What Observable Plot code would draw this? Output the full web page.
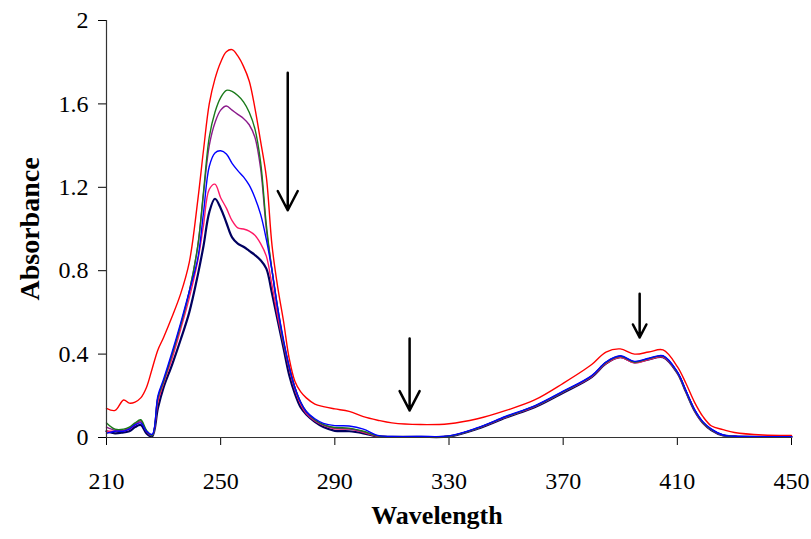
<!DOCTYPE html>
<html>
<head>
<meta charset="utf-8">
<script src="https://cdn.jsdelivr.net/npm/d3@7"></script>
<script src="https://cdn.jsdelivr.net/npm/@observablehq/plot@0.6"></script>
<style>
  html, body { margin: 0; padding: 0; background: white; }
</style>
</head>
<body>
<div id="chart"></div>
<script>
const wavelength = [210,213,216,218,220,222,224,226,228,230,
  233,236,239,242,244,246,248,250,252,254,
  256,258,260,262,264,266,268,270,272,274,
  276,278,280,283,286,290,295,300,305,310,
  320,330,340,350,360,370,380,385,390,395,
  400,405,410,413,416,419,422,426,430,440,
  450];

const red = [0.14,0.13,0.18,0.165,0.17,0.19,0.24,0.33,0.42,0.48,
  0.58,0.69,0.84,1.14,1.38,1.60,1.72,1.80,1.85,1.86,
  1.83,1.78,1.71,1.58,1.42,1.25,0.92,0.72,0.56,0.38,
  0.27,0.22,0.19,0.16,0.148,0.137,0.125,0.10,0.083,0.07,
  0.062,0.066,0.09,0.13,0.18,0.26,0.35,0.41,0.425,0.40,
  0.41,0.42,0.34,0.26,0.17,0.10,0.055,0.038,0.024,0.012,
  0.01];

const green = [0.07,0.04,0.04,0.05,0.07,0.085,0.035,0.01,0.19,0.27,
  0.40,0.54,0.70,0.92,1.18,1.44,1.56,1.63,1.665,1.66,
  1.64,1.61,1.56,1.48,1.32,1.02,0.80,0.62,0.46,0.34,
  0.24,0.17,0.125,0.085,0.062,0.048,0.045,0.03,0.008,0.004,
  0.004,0.006,0.045,0.10,0.15,0.22,0.295,0.36,0.39,0.362,
  0.378,0.39,0.312,0.222,0.132,0.072,0.037,0.011,0.005,0.003,
  0.003];

const purple = [0.05,0.035,0.035,0.045,0.065,0.08,0.03,0.01,0.19,0.27,
  0.40,0.54,0.70,0.92,1.17,1.40,1.51,1.57,1.59,1.57,
  1.55,1.53,1.50,1.44,1.29,1.00,0.80,0.61,0.46,0.34,
  0.24,0.17,0.12,0.082,0.06,0.045,0.042,0.028,0.007,0.004,
  0.004,0.006,0.045,0.10,0.15,0.22,0.295,0.36,0.39,0.362,
  0.378,0.39,0.312,0.222,0.132,0.072,0.037,0.011,0.005,0.003,
  0.003];

const blue = [0.02,0.03,0.03,0.04,0.06,0.07,0.03,0.015,0.20,0.28,
  0.41,0.55,0.70,0.86,1.08,1.30,1.365,1.375,1.36,1.315,
  1.28,1.25,1.21,1.15,1.07,0.95,0.80,0.62,0.47,0.34,
  0.24,0.17,0.125,0.09,0.068,0.057,0.055,0.04,0.01,0.005,
  0.005,0.008,0.047,0.102,0.152,0.222,0.297,0.362,0.392,0.365,
  0.38,0.392,0.315,0.225,0.135,0.075,0.04,0.012,0.006,0.004,
  0.004];

const pink = [0.03,0.03,0.03,0.04,0.06,0.075,0.03,0.01,0.17,0.26,
  0.38,0.52,0.67,0.85,1.02,1.19,1.215,1.15,1.10,1.04,
  1.005,1.0,0.99,0.97,0.93,0.87,0.73,0.58,0.45,0.33,
  0.23,0.16,0.115,0.08,0.058,0.042,0.04,0.025,0.006,0.004,
  0.004,0.006,0.044,0.098,0.148,0.218,0.292,0.355,0.385,0.358,
  0.374,0.386,0.31,0.22,0.13,0.07,0.036,0.01,0.005,0.003,
  0.003];

const navy = [0.03,0.02,0.025,0.03,0.05,0.06,0.02,0.005,0.14,0.24,
  0.35,0.47,0.60,0.78,0.92,1.08,1.145,1.10,1.03,0.96,
  0.93,0.915,0.895,0.875,0.85,0.81,0.69,0.56,0.43,0.30,
  0.21,0.145,0.11,0.075,0.05,0.032,0.03,0.02,0.005,0.003,
  0.003,0.005,0.042,0.096,0.145,0.215,0.29,0.355,0.385,0.36,
  0.375,0.385,0.31,0.22,0.13,0.07,0.035,0.01,0.005,0.003,
  0.003];

const seriesNames = ["navy", "pink", "purple", "green", "blue", "red"];
const seriesValues = [navy, pink, purple, green, blue, red];
const seriesColors = ["#000060", "#ff1a66", "#8b1a8b", "#1a7a1a", "#0000ff", "#ff0000"];
const seriesWidths = [2.2, 1.4, 1.4, 1.4, 1.4, 1.4];

const xTicks = [210, 250, 290, 330, 370, 410, 450];
const yTicks = [0, 0.4, 0.8, 1.2, 1.6, 2];

const arrowX = [273.5, 316.2, 396.8];
const arrowTop = [1.75, 0.475, 0.69];
const arrowTip = [1.09, 0.13, 0.48];

const serif = "'Liberation Serif', 'Times New Roman', serif";

const lineMarks = seriesNames.map((name, k) =>
  Plot.line(wavelength.map((w, i) => ({w, a: seriesValues[k][i]})), {
    x: "w", y: "a", stroke: seriesColors[k], strokeWidth: seriesWidths[k], curve: "catmull-rom"
  })
);

const arrowIdx = arrowX.map((_, i) => i);

const chart = Plot.plot({
  width: 811,
  height: 539,
  marginLeft: 106,
  marginRight: 20,
  marginTop: 20,
  marginBottom: 102,
  style: { fontFamily: serif, fontSize: "24px", color: "black", background: "white" },
  x: { domain: [210, 450], ticks: xTicks, tickSize: 8, tickPadding: 26, label: null },
  y: { domain: [0, 2], ticks: yTicks, tickSize: 8, tickPadding: 10, tickFormat: d => String(d), label: null },
  marks: [
    ...lineMarks,
    Plot.ruleX([210], { stroke: "#333", strokeWidth: 1.2 }),
    Plot.ruleY([0], { stroke: "#333", strokeWidth: 1.2 }),
    Plot.arrow(arrowIdx, {
      x1: i => arrowX[i], y1: i => arrowTop[i],
      x2: i => arrowX[i], y2: i => arrowTip[i],
      stroke: "black", strokeWidth: 2.5, headLength: 13, headAngle: 55
    }),
    Plot.text(["Wavelength"], { frameAnchor: "bottom", dx: -12, dy: 86, fontWeight: "bold", fontSize: 26, fill: "black" }),
    Plot.text(["Absorbance"], { frameAnchor: "left", textAnchor: "middle", dx: -76, rotate: -90, fontWeight: "bold", fontSize: 28, fill: "black" })
  ]
});

document.getElementById("chart").appendChild(chart);
</script>
</body>
</html>
